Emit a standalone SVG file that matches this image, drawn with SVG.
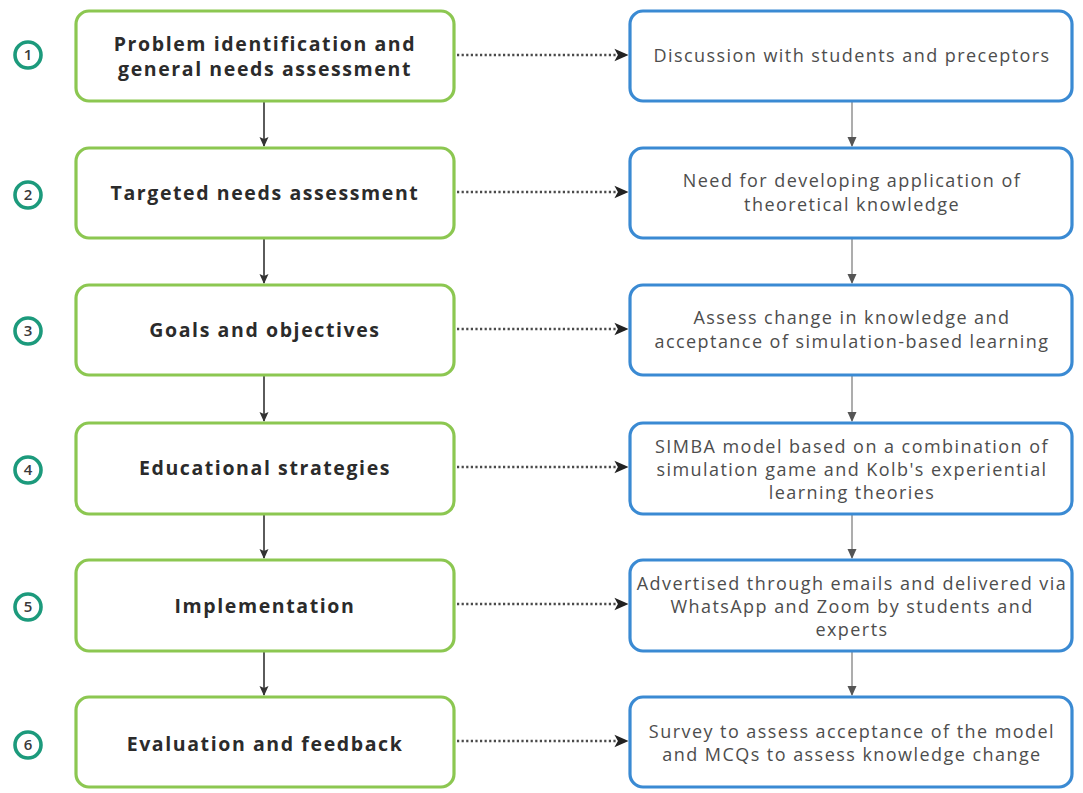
<svg xmlns="http://www.w3.org/2000/svg" width="1083" height="793" viewBox="0 0 1083 793">
  <defs>
    <style>
      .step { fill: #ffffff; stroke: #8cc751; stroke-width: 3.2; }
      .detail { fill: #ffffff; stroke: #3a8ad3; stroke-width: 3.2; }
      .badge { fill: #ffffff; stroke: #1c9a7c; stroke-width: 3.6; }
      .num { font-family: "Open Sans", "Liberation Sans", sans-serif; font-size: 15px; font-weight: 600; fill: #3a3a3a; text-anchor: middle; }
      .title { font-family: "Open Sans", "Liberation Sans", sans-serif; font-size: 19.5px; font-weight: 700; fill: #2b2b2b; text-anchor: middle; letter-spacing: 1.6px; }
      .desc { font-family: "Open Sans", "Liberation Sans", sans-serif; font-size: 18px; font-weight: 400; fill: #4d4d4d; text-anchor: middle; letter-spacing: 1.45px; }
      .flow { fill: none; stroke: #333333; stroke-width: 1.6; }
      .flow-r { fill: none; stroke: #8a8a8a; stroke-width: 1.4; }
      .link { fill: none; stroke: #4a4a4a; stroke-width: 2.4; stroke-dasharray: 2.2 2.4; }
    </style>
    <marker id="tipDark" viewBox="0 0 10 10" refX="9" refY="5" markerWidth="10" markerHeight="10" orient="auto" markerUnits="userSpaceOnUse">
      <path d="M0,0.5 L10,5 L0,9.5 L2,5 Z" fill="#333333"/>
    </marker>
    <marker id="tipGrey" viewBox="0 0 10 10" refX="9" refY="5" markerWidth="10" markerHeight="10" orient="auto" markerUnits="userSpaceOnUse">
      <path d="M0,0.5 L10,5 L0,9.5 Z" fill="#555555"/>
    </marker>
    <marker id="tipDot" viewBox="0 0 10 10" refX="9" refY="5" markerWidth="14" markerHeight="14" orient="auto" markerUnits="userSpaceOnUse">
      <path d="M0,0.5 L10,5 L0,9.5 L2.5,5 Z" fill="#222222"/>
    </marker>
  </defs>

  <rect width="1083" height="793" fill="#ffffff"/>

  <!-- connectors -->
  <g id="connectors">
    <!-- main sequence -->
    <path class="flow" d="M264,102 V146" marker-end="url(#tipDark)"/>
    <path class="flow" d="M264,239 V283" marker-end="url(#tipDark)"/>
    <path class="flow" d="M264,376 V421" marker-end="url(#tipDark)"/>
    <path class="flow" d="M264,515 V558" marker-end="url(#tipDark)"/>
    <path class="flow" d="M264,652 V695" marker-end="url(#tipDark)"/>
    <!-- detail sequence -->
    <path class="flow-r" d="M852,102 V146" marker-end="url(#tipGrey)"/>
    <path class="flow-r" d="M852,239 V283" marker-end="url(#tipGrey)"/>
    <path class="flow-r" d="M852,376 V421" marker-end="url(#tipGrey)"/>
    <path class="flow-r" d="M852,515 V558" marker-end="url(#tipGrey)"/>
    <path class="flow-r" d="M852,652 V695" marker-end="url(#tipGrey)"/>
    <!-- step to detail links -->
    <path class="link" d="M457,55 H627" marker-end="url(#tipDot)"/>
    <path class="link" d="M457,192 H627" marker-end="url(#tipDot)"/>
    <path class="link" d="M457,329 H627" marker-end="url(#tipDot)"/>
    <path class="link" d="M457,467 H627" marker-end="url(#tipDot)"/>
    <path class="link" d="M457,604 H627" marker-end="url(#tipDot)"/>
    <path class="link" d="M457,741 H627" marker-end="url(#tipDot)"/>
  </g>

  <!-- step 1 -->
  <g id="step1">
    <circle class="badge" cx="28" cy="55" r="13"/>
    <text class="num" x="28" y="60">1</text>
    <rect class="step" x="76" y="11" width="378" height="90" rx="13"/>
    <text class="title" x="265" y="51">Problem identification and</text>
    <text class="title" x="265" y="76">general needs assessment</text>
  </g>
  <g id="detail1">
    <rect class="detail" x="630" y="11" width="442" height="90" rx="13"/>
    <text class="desc" x="852" y="62">Discussion with students and preceptors</text>
  </g>

  <!-- step 2 -->
  <g id="step2">
    <circle class="badge" cx="28" cy="195" r="13"/>
    <text class="num" x="28" y="200">2</text>
    <rect class="step" x="76" y="148" width="378" height="90" rx="13"/>
    <text class="title" x="265" y="200">Targeted needs assessment</text>
  </g>
  <g id="detail2">
    <rect class="detail" x="630" y="148" width="442" height="90" rx="13"/>
    <text class="desc" x="852" y="187">Need for developing application of</text>
    <text class="desc" x="852" y="211">theoretical knowledge</text>
  </g>

  <!-- step 3 -->
  <g id="step3">
    <circle class="badge" cx="28" cy="331" r="13"/>
    <text class="num" x="28" y="336">3</text>
    <rect class="step" x="76" y="285" width="378" height="90" rx="13"/>
    <text class="title" x="265" y="337">Goals and objectives</text>
  </g>
  <g id="detail3">
    <rect class="detail" x="630" y="285" width="442" height="90" rx="13"/>
    <text class="desc" x="852" y="324">Assess change in knowledge and</text>
    <text class="desc" x="852" y="348">acceptance of simulation-based learning</text>
  </g>

  <!-- step 4 -->
  <g id="step4">
    <circle class="badge" cx="28" cy="470" r="13"/>
    <text class="num" x="28" y="475">4</text>
    <rect class="step" x="76" y="423" width="378" height="91" rx="13"/>
    <text class="title" x="265" y="475">Educational strategies</text>
  </g>
  <g id="detail4">
    <rect class="detail" x="630" y="423" width="442" height="91" rx="13"/>
    <text class="desc" x="852" y="453">SIMBA model based on a combination of</text>
    <text class="desc" x="852" y="476">simulation game and Kolb's experiential</text>
    <text class="desc" x="852" y="499">learning theories</text>
  </g>

  <!-- step 5 -->
  <g id="step5">
    <circle class="badge" cx="28" cy="607" r="13"/>
    <text class="num" x="28" y="612">5</text>
    <rect class="step" x="76" y="560" width="378" height="91" rx="13"/>
    <text class="title" x="265" y="613">Implementation</text>
  </g>
  <g id="detail5">
    <rect class="detail" x="630" y="560" width="442" height="91" rx="13"/>
    <text class="desc" x="852" y="590">Advertised through emails and delivered via</text>
    <text class="desc" x="852" y="613">WhatsApp and Zoom by students and</text>
    <text class="desc" x="852" y="636">experts</text>
  </g>

  <!-- step 6 -->
  <g id="step6">
    <circle class="badge" cx="28" cy="745" r="13"/>
    <text class="num" x="28" y="750">6</text>
    <rect class="step" x="76" y="697" width="378" height="90" rx="13"/>
    <text class="title" x="265" y="751">Evaluation and feedback</text>
  </g>
  <g id="detail6">
    <rect class="detail" x="630" y="697" width="442" height="90" rx="13"/>
    <text class="desc" x="852" y="738">Survey to assess acceptance of the model</text>
    <text class="desc" x="852" y="761">and MCQs to assess knowledge change</text>
  </g>
</svg>
